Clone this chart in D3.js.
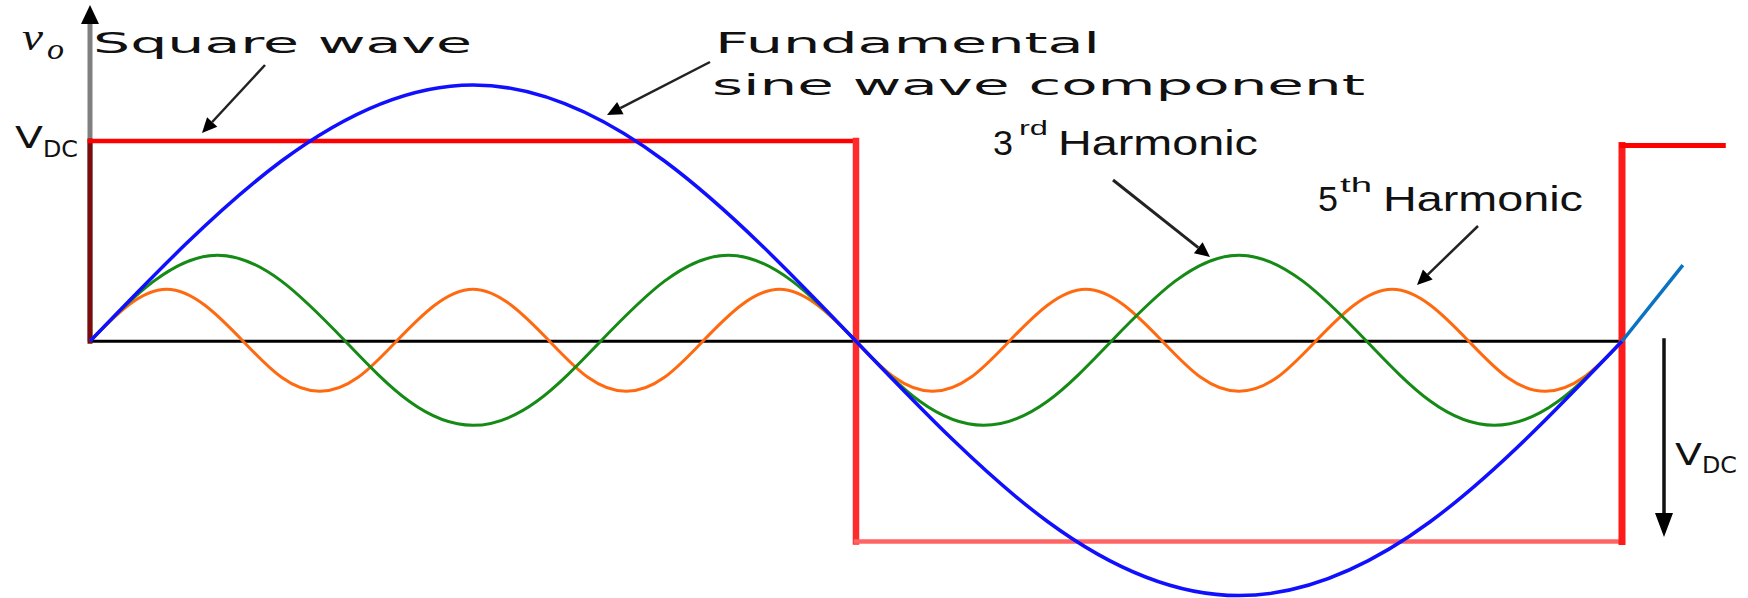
<!DOCTYPE html>
<html>
<head>
<meta charset="utf-8">
<script src="https://cdn.jsdelivr.net/npm/d3@7"></script>
<style>
  body { margin: 0; background: #fff; }
  svg { display: block; }
  .sans { font-family: "DejaVu Sans", Verdana, sans-serif; fill: #111; }
  .arial { font-family: "Liberation Sans", Arial, sans-serif; fill: #111; }
  .serif { font-family: "Liberation Serif", "Times New Roman", serif; font-style: italic; fill: #111; }
</style>
</head>
<body>
<svg id="chart" width="1748" height="598"></svg>
<script>
// angles in degrees, values in units of V_DC
const squareAngles = [0, 0, 180, 180, 360, 360, 383.8];
const squareValues = [0, 1, 1, -1, -1, 0.977, 0.977];

const fundamentalAngles = [0, 45, 90, 135, 180, 225, 270, 315, 360];
const fundamentalValues = [0, 0.90, 1.28, 0.90, 0, -0.90, -1.27, -0.90, 0];

// the lighter blue piece after the last zero crossing
const tailAngles = [360, 374.3];
const tailValues = [0, 0.38];

const thirdAngles = [0, 15, 30, 45, 60, 75, 90, 105, 120, 135, 150, 165, 180,
    195, 210, 225, 240, 255, 270, 285, 300, 315, 330, 345, 360];
const thirdValues = [0, 0.30, 0.43, 0.30, 0, -0.30, -0.42, -0.30, 0, 0.30, 0.43, 0.30, 0,
    -0.30, -0.42, -0.30, 0, 0.30, 0.43, 0.30, 0, -0.30, -0.42, -0.30, 0];

const fifthAngles = [0, 9, 18, 27, 36, 45, 54, 63, 72, 81, 90, 99, 108, 117, 126, 135, 144,
    153, 162, 171, 180, 189, 198, 207, 216, 225, 234, 243, 252, 261, 270, 279, 288,
    297, 306, 315, 324, 333, 342, 351, 360];
const fifthValues = [0, 0.18, 0.26, 0.18, 0, -0.18, -0.25, -0.18, 0, 0.18, 0.26, 0.18, 0,
    -0.18, -0.25, -0.18, 0, 0.18, 0.26, 0.18, 0, -0.18, -0.25, -0.18, 0, 0.18, 0.26, 0.18,
    0, -0.18, -0.25, -0.18, 0, 0.18, 0.26, 0.18, 0, -0.18, -0.25, -0.18, 0];

const svg = d3.select('#chart');

const xScale = d3.scaleLinear()
        .domain([0, 360])
        .range([90, 1622]);
const yScale = d3.scaleLinear()
        .domain([-1, 1])
        .range([541.5, 141]);

const zip = (xs, ys) => xs.map((x, i) => [x, ys[i]]);

const smooth = d3.line()
        .x(d => xScale(d[0]))
        .y(d => yScale(d[1]))
        .curve(d3.curveNatural);
const straight = d3.line()
        .x(d => xScale(d[0]))
        .y(d => yScale(d[1]));

// vertical axis (gray shaft, black head)
const x0 = xScale(0);
svg.append('line')
        .attr('x1', x0).attr('x2', x0)
        .attr('y1', yScale(0)).attr('y2', 20)
        .attr('stroke', '#808080')
        .attr('stroke-width', 5);
svg.append('path')
        .attr('d', `M${x0},5 L${x0 - 9},24 L${x0 + 9},24 Z`)
        .attr('fill', '#000');

// zero line
svg.append('line')
        .attr('x1', xScale(0) - 2).attr('x2', xScale(360))
        .attr('y1', yScale(0)).attr('y2', yScale(0))
        .attr('stroke', '#000')
        .attr('stroke-width', 3);

// square wave, drawn segment by segment so each piece can keep its own shade
const squarePoints = zip(squareAngles, squareValues);
const segmentColors = ['#7a0c0c', '#ff0000', '#ff2a2a', '#ff6464', '#ff1a1a', '#ff0000'];
const segmentWidths = [5, 4.5, 6.5, 4.5, 7, 5];
d3.pairs(squarePoints).forEach(([a, b], i) => {
    svg.append('path')
            .attr('d', straight([a, b]))
            .attr('fill', 'none')
            .attr('stroke', segmentColors[i])
            .attr('stroke-width', segmentWidths[i])
            .attr('stroke-linecap', 'square');
});

// harmonics
const waves = [
    { points: zip(fifthAngles, fifthValues), color: '#ff6a10', width: 3 },
    { points: zip(thirdAngles, thirdValues), color: '#158a15', width: 3 },
    { points: zip(fundamentalAngles, fundamentalValues), color: '#1010ff', width: 3.5 }
];
waves.forEach(w => {
    svg.append('path')
            .attr('d', smooth(w.points))
            .attr('fill', 'none')
            .attr('stroke', w.color)
            .attr('stroke-width', w.width);
});
svg.append('path')
        .attr('d', straight(zip(tailAngles, tailValues)))
        .attr('fill', 'none')
        .attr('stroke', '#0a72c2')
        .attr('stroke-width', 3.5);

// annotation arrows
const arrow = (x1, y1, x2, y2, width) => {
    const angle = Math.atan2(y2 - y1, x2 - x1);
    const len = 15;
    const half = 7;
    const bx = x2 - len * Math.cos(angle);
    const by = y2 - len * Math.sin(angle);
    const px = -Math.sin(angle) * half;
    const py = Math.cos(angle) * half;
    svg.append('line')
            .attr('x1', x1).attr('y1', y1)
            .attr('x2', bx).attr('y2', by)
            .attr('stroke', '#222')
            .attr('stroke-width', width);
    svg.append('path')
            .attr('d', `M${x2},${y2} L${bx + px},${by + py} L${bx - px},${by - py} Z`)
            .attr('fill', '#000');
};
arrow(265, 65, 202, 133, 2.5);
arrow(710, 62, 607, 115, 2.5);
arrow(1113, 180, 1210, 257, 3);
arrow(1478, 226, 1417, 285, 2.5);

// V_DC arrow on the right
svg.append('line')
        .attr('x1', 1664).attr('x2', 1664)
        .attr('y1', yScale(0) - 3).attr('y2', 516)
        .attr('stroke', '#111')
        .attr('stroke-width', 3.5);
svg.append('path')
        .attr('d', 'M1664,537 L1655,513 L1673,513 Z')
        .attr('fill', '#000');

// labels
const label = (cls, txt, x, y, size, length) => {
    const t = svg.append('text')
            .attr('class', cls)
            .attr('x', x)
            .attr('y', y)
            .attr('font-size', size)
            .text(txt);
    if (length) {
        t.attr('textLength', length).attr('lengthAdjust', 'spacingAndGlyphs');
    }
    return t;
};

label('serif', 'v', 22, 50, 38, 21);
label('serif', 'o', 47, 59, 30, 17);
label('sans', 'Square wave', 93, 53, 29, 379);
label('sans', 'Fundamental', 715, 53, 29, 385);
label('sans', 'sine wave component', 712, 95, 29, 653);

label('arial', '3', 993, 155, 35, 20);
label('arial', 'rd', 1019, 135, 21, 29);
label('arial', 'Harmonic', 1058, 155, 35, 200);
label('arial', '5', 1318, 211, 35, 20);
label('arial', 'th', 1340, 192, 21, 32);
label('arial', 'Harmonic', 1383, 211, 35, 200);

label('sans', 'V', 15, 148, 30, 28);
label('sans', 'DC', 43, 157, 23, 35);
label('sans', 'V', 1675, 465, 30, 27);
label('sans', 'DC', 1702, 473, 23, 35);
</script>
</body>
</html>
